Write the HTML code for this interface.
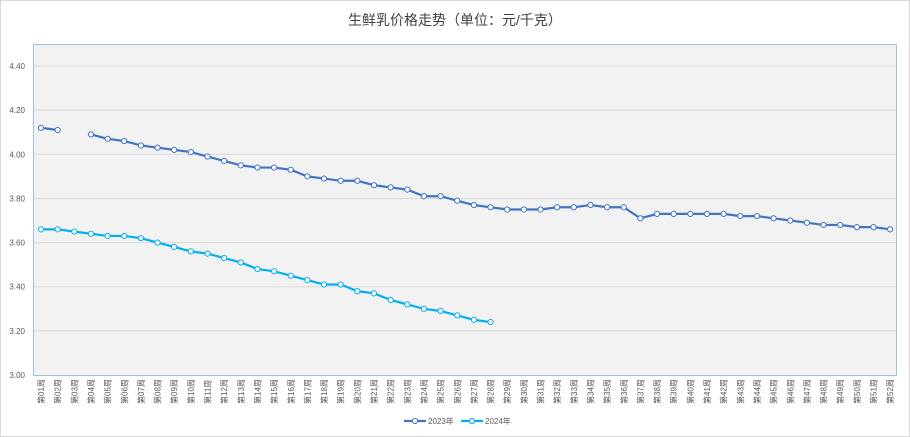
<!DOCTYPE html>
<html><head><meta charset="utf-8"><style>
html,body{margin:0;padding:0;background:#fff;}
svg{display:block;font-family:"Liberation Sans","Noto Sans CJK SC",sans-serif;}
</style></head><body>
<svg id="c" width="910" height="437" xmlns="http://www.w3.org/2000/svg">
<rect x="0.5" y="0.5" width="909" height="436" fill="#fff" stroke="#d9d9d9"/>
<text x="455" y="25" text-anchor="middle" font-size="14" fill="#404040">生鲜乳价格走势（单位：元/千克）</text>
<rect x="33.5" y="44.5" width="863" height="331" fill="#f2f2f2" stroke="#9dc3e6"/>
<g id="g"></g>
</svg>
<script>
var s=document.getElementById('g'),h='';
function Y(v){return 375-(v-3)/0.2*44.14;}
function X(i){return 41+i*16.65;}
for(var k=1;k<=7;k++){var v=3+k*0.2,y=Y(v);h+='<line x1="34" x2="896" y1="'+y+'" y2="'+y+'" stroke="#d9d9d9"/>';}
for(var k=0;k<=7;k++){var v=3+k*0.2;h+='<text x="25" y="'+(Y(v)+3)+'" text-anchor="end" font-size="8" fill="#595959">'+v.toFixed(2)+'</text>';}
for(var i=0;i<52;i++){var n=('0'+(i+1)).slice(-2);h+='<text transform="translate('+(X(i)+3)+',404) rotate(-90)" font-size="8" fill="#595959">第'+n+'周</text>';}
var a=[4.12,4.11,null,4.09,4.07,4.06,4.04,4.03,4.02,4.01,3.99,3.97,3.95,3.94,3.94,3.93,3.90,3.89,3.88,3.88,3.86,3.85,3.84,3.81,3.81,3.79,3.77,3.76,3.75,3.75,3.75,3.76,3.76,3.77,3.76,3.76,3.71,3.73,3.73,3.73,3.73,3.73,3.72,3.72,3.71,3.70,3.69,3.68,3.68,3.67,3.67,3.66];
var b=[3.66,3.66,3.65,3.64,3.63,3.63,3.62,3.60,3.58,3.56,3.55,3.53,3.51,3.48,3.47,3.45,3.43,3.41,3.41,3.38,3.37,3.34,3.32,3.30,3.29,3.27,3.25,3.24];
function ser(d,c){var p='',m=false,q='';d.forEach(function(v,i){if(v==null){m=false;return;}p+=(m?'L':'M')+X(i)+' '+Y(v);m=true;q+='<circle cx="'+X(i)+'" cy="'+Y(v)+'" r="2.6" fill="#fff" stroke="'+c+'" stroke-width="1"/>';});
h+='<path d="'+p+'" fill="none" stroke="'+c+'" stroke-width="2.2"/>'+q;}
ser(a,'#4472c4');ser(b,'#00b0f0');
h+='<line x1="404" x2="426" y1="421" y2="421" stroke="#4472c4" stroke-width="2.2"/><circle cx="415" cy="421" r="2.6" fill="#fff" stroke="#4472c4"/><text x="428" y="424" font-size="8" fill="#595959">2023年</text>';
h+='<line x1="461" x2="483" y1="421" y2="421" stroke="#00b0f0" stroke-width="2.2"/><circle cx="472" cy="421" r="2.6" fill="#fff" stroke="#00b0f0"/><text x="485" y="424" font-size="8" fill="#595959">2024年</text>';
s.innerHTML=h;
</script>
</body></html>
